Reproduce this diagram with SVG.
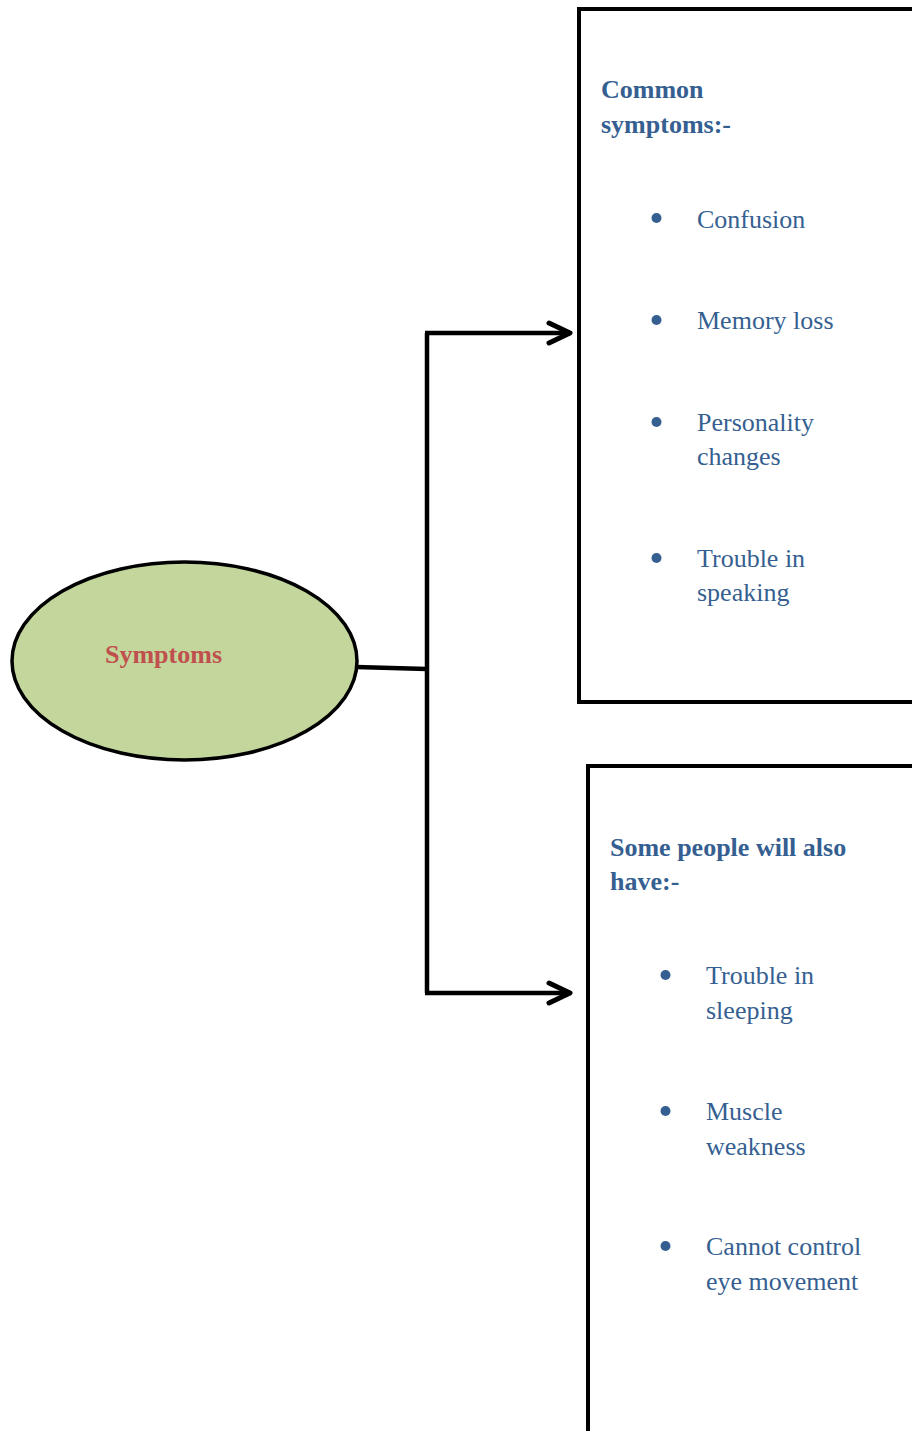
<svg xmlns="http://www.w3.org/2000/svg" width="912" height="1431" viewBox="0 0 912 1431">
<style>
.box{fill:#fff;stroke:#000;stroke-width:4}
.head{font-family:"Liberation Serif",serif;font-weight:bold;font-size:26px;fill:#365F91}
.item{font-family:"Liberation Serif",serif;font-size:26px;fill:#365F91}
.dot{fill:#365F91}
.conn{fill:none;stroke:#000;stroke-width:4.5}
</style>
<defs>
<marker id="arr" markerWidth="30" markerHeight="30" refX="24" refY="13" orient="auto" markerUnits="userSpaceOnUse">
<path d="M3,3 L24,13 L3,23" fill="none" stroke="#000" stroke-width="5" stroke-linecap="round" stroke-linejoin="round"/>
</marker>
</defs>
<rect width="912" height="1431" fill="#fff"/>
<g id="connectors">
<path class="conn" d="M356,667 L427,669"/>
<path class="conn" d="M427,333 L427,993"/>
<path class="conn" d="M425,333 L570,333" marker-end="url(#arr)"/>
<path class="conn" d="M425,993 L570,993" marker-end="url(#arr)"/>
</g>
<g id="symptoms">
<ellipse cx="184.5" cy="661" rx="172.5" ry="99" fill="#C3D69B" stroke="#000" stroke-width="3.5"/>
<text x="105" y="663" font-family="Liberation Serif,serif" font-weight="bold" font-size="26" fill="#C0504D">Symptoms</text>
</g>
<g id="common">
<rect class="box" x="579" y="9" width="340" height="693"/>
<text class="head" x="601" y="98">Common</text>
<text class="head" x="601" y="133">symptoms:-</text>
<circle class="dot" cx="656.5" cy="218" r="5"/>
<text class="item" x="697" y="228">Confusion</text>
<circle class="dot" cx="656.5" cy="320" r="5"/>
<text class="item" x="697" y="329">Memory loss</text>
<circle class="dot" cx="656.5" cy="422" r="5"/>
<text class="item" x="697" y="431">Personality</text>
<text class="item" x="697" y="465">changes</text>
<circle class="dot" cx="656.5" cy="558" r="5"/>
<text class="item" x="697" y="567">Trouble in</text>
<text class="item" x="697" y="601">speaking</text>
</g>
<g id="also">
<rect class="box" x="588" y="766" width="340" height="700"/>
<text class="head" x="610" y="856">Some people will also</text>
<text class="head" x="610" y="890">have:-</text>
<circle class="dot" cx="665.5" cy="975" r="5"/>
<text class="item" x="706" y="984">Trouble in</text>
<text class="item" x="706" y="1019">sleeping</text>
<circle class="dot" cx="665.5" cy="1111" r="5"/>
<text class="item" x="706" y="1120">Muscle</text>
<text class="item" x="706" y="1155">weakness</text>
<circle class="dot" cx="665.5" cy="1246" r="5"/>
<text class="item" x="706" y="1255">Cannot control</text>
<text class="item" x="706" y="1290">eye movement</text>
</g>
</svg>
